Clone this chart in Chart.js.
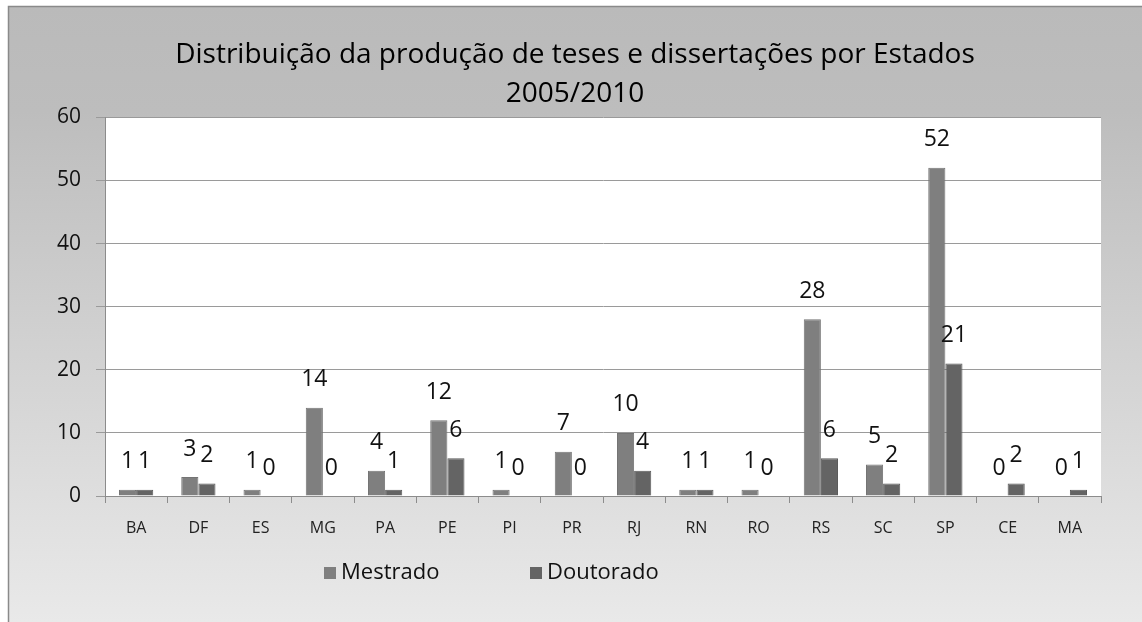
<!DOCTYPE html>
<html>
<head>
<meta charset="utf-8">
<script src="https://cdn.jsdelivr.net/npm/chart.js@4/dist/chart.umd.min.js"></script>
<style>
  html, body { margin: 0; padding: 0; background: #fff; }
  #wrap { width: 1142px; height: 622px; position: relative; }
</style>
</head>
<body>
<div id="wrap"><canvas id="chart"></canvas></div>
<script>
const estados = ['BA', 'DF', 'ES', 'MG', 'PA', 'PE', 'PI', 'PR', 'RJ', 'RN', 'RO', 'RS', 'SC', 'SP', 'CE', 'MA'];
const mestrado = [1, 3, 1, 14, 4, 12, 1, 7, 10, 1, 1, 28, 5, 52, 0, 0];
const doutorado = [1, 2, 0, 0, 1, 6, 0, 0, 4, 1, 0, 6, 2, 21, 2, 1];
const yTicks = [0, 10, 20, 30, 40, 50, 60];

const fontFamily = '"Open Sans", "Noto Sans", sans-serif';

// fundo cinza em degradê com moldura
const backgroundPlugin = {
  id: 'fundo',
  beforeDraw: function (chart) {
    const ctx = chart.ctx;
    const w = chart.width, h = chart.height;
    ctx.save();
    const grad = ctx.createLinearGradient(0, 6, 0, h);
    grad.addColorStop(0, '#bababa');
    grad.addColorStop(0.17, '#bdbdbd');
    grad.addColorStop(1, '#e9e9e9');
    ctx.fillStyle = grad;
    ctx.fillRect(8, 6, w - 8, h - 6);
    ctx.strokeStyle = '#8a8a8a';
    ctx.lineWidth = 1.5;
    ctx.strokeRect(8.5, 6.5, w + 10, h + 10);
    // área do gráfico em branco
    const a = chart.chartArea;
    ctx.fillStyle = '#ffffff';
    ctx.fillRect(a.left, a.top, a.right - a.left, a.bottom - a.top);
    ctx.restore();
  }
};

// rótulos de valores acima das barras
const dataLabelPlugin = {
  id: 'rotulos',
  afterDatasetsDraw: function (chart) {
    const ctx = chart.ctx;
    ctx.save();
    ctx.fillStyle = '#111111';
    ctx.font = '23px ' + fontFamily;
    ctx.textAlign = 'center';
    ctx.textBaseline = 'middle';
    chart.data.datasets.forEach(function (dataset, i) {
      const meta = chart.getDatasetMeta(i);
      if (meta.hidden) return;
      meta.data.forEach(function (element, index) {
        ctx.fillText(String(dataset.data[index]), element.x, element.y - 28);
      });
    });
    ctx.restore();
  }
};

// legenda desenhada à mão (fica deslocada para a esquerda no original)
const legendPlugin = {
  id: 'legenda',
  afterDraw: function (chart) {
    const ctx = chart.ctx;
    const a = chart.chartArea;
    ctx.save();
    ctx.font = '22px ' + fontFamily;
    ctx.textBaseline = 'middle';
    let x = a.left + 219;
    const y = a.bottom + 77;
    chart.data.datasets.forEach(function (ds) {
      ctx.fillStyle = ds.backgroundColor;
      ctx.fillRect(x, y - 6, 12, 12);
      ctx.fillStyle = '#111111';
      ctx.fillText(ds.label, x + 17, y);
      x += 206;
    });
    ctx.restore();
  }
};

const ctx = document.getElementById('chart');

new Chart(ctx, {
  type: 'bar',
  data: {
    labels: estados,
    datasets: [
      { label: 'Mestrado', data: mestrado, backgroundColor: '#7f7f7f', borderColor: '#747474', borderWidth: 1 },
      { label: 'Doutorado', data: doutorado, backgroundColor: '#646464', borderColor: '#5a5a5a', borderWidth: 1 }
    ]
  },
  options: {
    responsive: true,
    maintainAspectRatio: false,
    animation: false,
    events: [],
    datasets: {
      bar: { categoryPercentage: 0.55, barPercentage: 1.0 }
    },
    layout: { padding: { left: 8, right: 0, top: 0, bottom: 0 } },
    plugins: {
      legend: { display: false },
      tooltip: { enabled: false },
      title: {
        display: true,
        text: ['Distribuição da produção de teses e dissertações por Estados', '2005/2010'],
        color: '#000000',
        font: { family: fontFamily, size: 28, weight: 'normal', lineHeight: 1.38 },
        padding: { top: 36, bottom: 4 }
      }
    },
    scales: {
      x: {
        grid: { display: true, drawOnChartArea: false, drawTicks: true, tickLength: 7, color: '#8c8c8c', offset: true },
        border: { color: '#8c8c8c' },
        ticks: { color: '#222222', font: { family: fontFamily, size: 16 }, padding: 16 },
        afterFit: function (scale) { scale.height = 126; }
      },
      y: {
        min: 0,
        max: 60,
        afterBuildTicks: function (scale) { scale.ticks = yTicks.map(function (v) { return { value: v }; }); },
        grid: { color: '#9a9a9a', tickLength: 9, drawTicks: true },
        border: { color: '#8c8c8c' },
        ticks: { color: '#111111', font: { family: fontFamily, size: 21 }, padding: 15 },
        afterFit: function (scale) { scale.width = 97; }
      },
      // eixo vazio à direita só para reservar a margem
      yRight: {
        position: 'right',
        min: 0,
        max: 60,
        grid: { display: false },
        border: { display: false },
        ticks: { display: false },
        afterFit: function (scale) { scale.width = 41; }
      }
    }
  },
  plugins: [backgroundPlugin, dataLabelPlugin, legendPlugin]
});
</script>
</body>
</html>
